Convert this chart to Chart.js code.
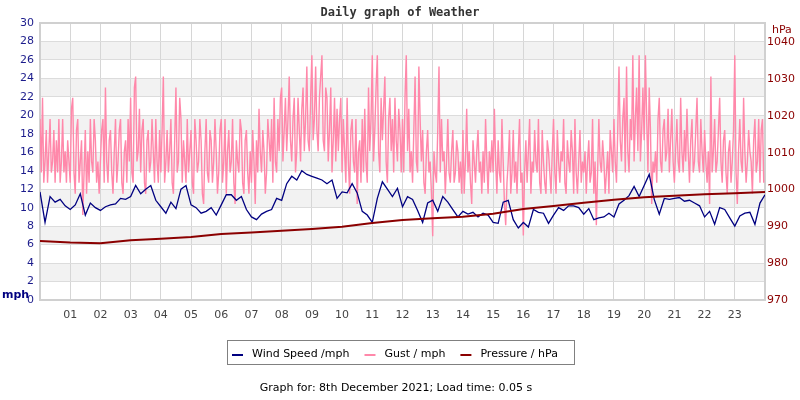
<!DOCTYPE html>
<html>
<head>
<meta charset="utf-8">
<script src="https://cdn.jsdelivr.net/npm/chart.js@4.4.0/dist/chart.umd.min.js"></script>
<style>
  html, body { margin: 0; padding: 0; background: #fff; }
</style>
</head>
<body>
<canvas id="chart1" width="800" height="400"></canvas>
<script>
// hour labels on the x axis
const hourLabels = ['01','02','03','04','05','06','07','08','09','10','11','12',
  '13','14','15','16','17','18','19','20','21','22','23'];

// wind speed, mph, every 10 minutes from 00:00 to 24:00
const windSpeed = [
  11.7, 8.4, 11.2, 10.6, 10.9, 10.2,
  9.8, 10.3, 11.5, 9.2, 10.5, 10.0,
  9.7, 10.1, 10.3, 10.4, 11.0, 10.9,
  11.2, 12.4, 11.5, 12.0, 12.4, 10.8,
  10.1, 9.4, 10.6, 9.9, 12.0, 12.4,
  10.3, 10.0, 9.4, 9.6, 10.0, 9.2,
  10.3, 11.4, 11.4, 10.8, 11.2, 9.8,
  9.0, 8.7, 9.3, 9.6, 9.8, 11.0,
  10.8, 12.6, 13.4, 13.0, 14.0, 13.6,
  13.4, 13.2, 13.0, 12.6, 13.0, 11.0,
  11.7, 11.6, 12.6, 11.6, 9.6, 9.2,
  8.4, 11.0, 12.8, 12.0, 11.2, 12.1,
  10.1, 11.2, 10.9, 9.7, 8.4, 10.5,
  10.8, 9.6, 11.2, 10.6, 9.8, 9.0,
  9.6, 9.3, 9.5, 9.0, 9.4, 9.2,
  8.4, 8.3, 10.6, 10.8, 8.7, 7.8,
  8.4, 7.9, 9.8, 9.5, 9.4, 8.3,
  9.2, 10.0, 9.7, 10.2, 10.2, 10.0,
  9.3, 9.9, 8.7, 8.9, 9.0, 9.4,
  9.0, 10.4, 10.8, 11.3, 12.3, 11.2,
  12.4, 13.6, 10.9, 9.3, 11.0, 10.9,
  11.0, 11.1, 10.7, 10.8, 10.5, 10.2,
  9.0, 9.6, 8.2, 10.0, 9.8, 8.9,
  8.0, 9.1, 9.4, 9.5, 8.2, 10.5,
  11.4
];

// gust, mph, every 2.5 minutes (one row per hour)
const gust = [
  19.6, 13.8, 21.9, 12.7, 15.0, 18.4, 12.7, 16.1, 19.6, 13.8, 15.0, 18.4, 12.7, 17.3, 13.8, 19.6, 12.7, 15.0, 19.6, 13.8, 16.1, 12.7, 17.3, 15.0,
  12.7, 20.7, 21.9, 13.8, 11.5, 18.4, 19.6, 12.7, 15.0, 17.3, 9.2, 13.8, 18.4, 11.5, 16.1, 12.7, 19.6, 15.0, 13.8, 19.6, 17.3, 12.7, 15.0, 11.5,
  15.0, 18.4, 19.6, 12.7, 23.0, 15.0, 12.7, 17.3, 18.4, 13.8, 11.5, 16.1, 19.6, 12.7, 15.0, 18.4, 19.6, 12.7, 11.5, 16.1, 17.3, 12.7, 19.6, 15.0,
  21.9, 13.8, 12.7, 23.0, 24.2, 15.0, 16.1, 20.7, 13.8, 18.4, 19.6, 12.7, 11.5, 17.3, 18.4, 13.8, 15.0, 19.6, 16.1, 12.7, 19.6, 15.0, 12.7, 18.4,
  13.8, 18.4, 24.2, 12.7, 15.0, 18.4, 13.8, 16.1, 19.6, 12.7, 11.5, 17.3, 23.0, 13.8, 15.0, 21.9, 19.6, 12.7, 17.3, 15.0, 12.7, 19.6, 13.8, 16.1,
  18.4, 12.7, 11.5, 19.6, 17.3, 13.8, 15.0, 19.6, 17.3, 11.5, 10.4, 16.1, 19.6, 13.8, 12.7, 18.4, 17.3, 12.7, 15.0, 19.6, 16.1, 11.5, 13.8, 18.4,
  19.6, 12.7, 15.0, 19.6, 11.5, 16.1, 18.4, 13.8, 15.0, 19.6, 12.7, 10.4, 17.3, 15.0, 13.8, 19.6, 18.4, 12.7, 11.5, 17.3, 18.4, 13.8, 11.5, 16.1,
  12.7, 18.4, 15.0, 10.4, 17.3, 13.8, 20.7, 16.1, 13.8, 18.4, 16.1, 11.5, 13.8, 19.6, 17.3, 15.0, 19.6, 12.7, 21.9, 15.0, 13.8, 19.6, 16.1, 21.9,
  23.0, 15.0, 18.4, 21.9, 16.1, 19.6, 24.2, 17.3, 15.0, 19.6, 21.9, 13.8, 16.1, 21.9, 18.4, 15.0, 20.7, 23.0, 16.1, 19.6, 25.3, 17.3, 16.1, 21.9,
  26.5, 17.3, 19.6, 25.3, 18.4, 16.1, 21.9, 24.2, 26.5, 17.3, 16.1, 23.0, 21.9, 15.0, 18.4, 23.0, 13.8, 17.3, 21.9, 15.0, 20.7, 16.1, 19.6, 21.9,
  13.8, 19.6, 16.1, 12.7, 21.9, 15.0, 11.5, 18.4, 19.6, 15.0, 13.8, 19.6, 10.4, 16.1, 17.3, 12.7, 19.6, 13.8, 20.7, 15.0, 12.7, 23.0, 16.1, 19.6,
  26.5, 15.0, 18.4, 23.0, 26.5, 16.1, 13.8, 21.9, 17.3, 20.7, 24.2, 15.0, 12.7, 19.6, 21.9, 16.1, 19.6, 13.8, 21.9, 17.3, 15.0, 20.7, 18.4, 13.8,
  19.6, 13.8, 21.9, 26.5, 16.1, 20.7, 13.8, 16.1, 12.7, 18.4, 24.2, 15.0, 13.8, 25.3, 19.6, 15.0, 18.4, 12.7, 11.5, 16.1, 18.4, 13.8, 15.0, 11.5,
  6.9, 16.1, 13.8, 12.7, 18.4, 25.3, 13.8, 19.6, 15.0, 16.1, 11.5, 15.0, 19.6, 13.8, 12.7, 16.1, 18.4, 12.7, 13.8, 17.3, 16.1, 12.7, 15.0, 11.5,
  18.4, 11.5, 15.0, 20.7, 13.8, 16.1, 12.7, 10.4, 17.3, 15.0, 12.7, 16.1, 18.4, 13.8, 15.0, 11.5, 16.1, 12.7, 19.6, 15.0, 11.5, 16.1, 13.8, 17.3,
  13.8, 20.7, 15.0, 11.5, 17.3, 13.8, 12.7, 19.6, 15.0, 10.4, 8.1, 12.7, 15.0, 18.4, 11.5, 13.8, 18.4, 12.7, 15.0, 11.5, 16.1, 19.6, 12.7, 13.8,
  7.0, 13.8, 17.3, 12.7, 16.1, 19.6, 11.5, 15.0, 13.8, 18.4, 15.0, 13.8, 19.6, 12.7, 11.5, 18.4, 15.0, 12.7, 11.5, 17.3, 16.1, 13.8, 11.5, 16.1,
  19.6, 13.8, 11.5, 18.4, 15.0, 12.7, 16.1, 15.0, 19.6, 12.7, 11.5, 17.3, 15.0, 13.8, 18.4, 16.1, 11.5, 19.6, 13.8, 11.5, 15.0, 18.4, 12.7, 15.0,
  13.8, 16.1, 11.5, 15.0, 17.3, 12.7, 13.8, 19.6, 11.5, 15.0, 8.1, 13.8, 19.6, 15.0, 13.8, 17.3, 15.0, 11.5, 13.8, 16.1, 11.5, 18.4, 16.1, 13.8,
  19.6, 15.0, 12.7, 18.4, 25.3, 17.3, 15.0, 19.6, 21.9, 13.8, 25.3, 16.1, 13.8, 19.6, 17.3, 26.5, 15.0, 19.6, 23.0, 16.1, 26.5, 15.0, 18.4, 23.0,
  17.3, 26.5, 19.6, 13.8, 23.0, 18.4, 10.4, 15.0, 13.8, 16.1, 12.7, 19.6, 21.9, 15.0, 13.8, 18.4, 19.6, 15.0, 16.1, 20.7, 13.8, 17.3, 20.7, 15.0,
  12.7, 16.1, 19.6, 15.0, 13.8, 21.9, 16.1, 13.8, 18.4, 15.0, 20.7, 16.1, 12.7, 17.3, 19.6, 13.8, 15.0, 18.4, 21.9, 15.0, 13.8, 19.6, 16.1, 13.8,
  18.4, 15.0, 12.7, 16.1, 10.4, 24.2, 13.8, 16.1, 19.6, 13.8, 15.0, 18.4, 21.9, 15.0, 12.7, 17.3, 18.4, 13.8, 11.5, 16.1, 17.3, 12.7, 15.0, 18.4,
  26.5, 13.8, 10.4, 16.1, 19.6, 15.0, 13.8, 21.9, 16.1, 12.7, 15.0, 18.4, 16.1, 15.0, 11.5, 17.3, 19.6, 13.8, 15.0, 19.6, 12.7, 18.4, 19.6, 12.7
];

// pressure, hPa, hourly
const pressure = [
  986.0, 985.6, 985.4, 986.2, 986.6, 987.1, 987.9, 988.3, 988.8, 989.3,
  989.9, 990.9, 991.7, 992.2, 992.6, 993.4, 994.7, 995.5, 996.4, 997.2,
  997.9, 998.3, 998.7, 999.0, 999.3
];

const font = 'DejaVu Sans';

const decor = {
  id: 'decor',
  beforeDraw(chart) {
    const { ctx, chartArea: a, scales: { y } } = chart;
    ctx.save();
    ctx.fillStyle = '#fff';
    ctx.fillRect(0, 0, chart.width, chart.height);
    // alternating bands
    ctx.fillStyle = '#f2f2f2';
    for (let v = 2; v < 30; v += 4) {
      const top = y.getPixelForValue(v + 2), bot = y.getPixelForValue(v);
      ctx.fillRect(a.left, top, a.right - a.left, bot - top);
    }
    ctx.restore();
  },
  beforeDatasetsDraw(chart) {
    const { ctx, chartArea: a } = chart;
    ctx.save();
    ctx.strokeStyle = '#d0d0d0';
    ctx.lineWidth = 2;
    ctx.strokeRect(a.left, a.top, a.right - a.left, a.bottom - a.top);
    ctx.restore();
  },
  afterDraw(chart) {
    const { ctx } = chart;
    ctx.save();
    ctx.textBaseline = 'middle';

    ctx.fillStyle = '#333';
    ctx.textAlign = 'center';
    ctx.font = 'bold 12px "DejaVu Sans Mono"';
    ctx.fillText('Daily graph of Weather', 400, 13);

    ctx.textAlign = 'left';
    ctx.fillStyle = '#000080';
    ctx.font = 'bold 11px ' + font;
    ctx.fillText('mph', 2, 295);
    ctx.fillStyle = '#8b0000';
    ctx.font = '11px ' + font;
    ctx.fillText('hPa', 772, 30);

    // legend box
    ctx.strokeStyle = '#808080';
    ctx.lineWidth = 1;
    ctx.strokeRect(227.5, 340.5, 347, 24);
    ctx.font = '11px ' + font;
    let x = 232;
    chart.data.datasets.forEach(ds => {
      ctx.fillStyle = ds.borderColor;
      ctx.fillRect(x, 354, 11, 2);
      ctx.fillStyle = '#000';
      ctx.fillText(ds.label, x + 20, 354);
      x += 20 + ctx.measureText(ds.label).width + 15;
    });

    ctx.textAlign = 'center';
    ctx.fillStyle = '#000';
    ctx.fillText('Graph for: 8th December 2021; Load time: 0.05 s', 396, 388);
    ctx.restore();
  }
};

new Chart(document.getElementById('chart1'), {
  type: 'line',
  data: {
    datasets: [{
      label: 'Wind Speed /mph',
      data: windSpeed.map((v, i) => ({ x: i / 6, y: v })),
      borderColor: '#000080',
      borderWidth: 1.3,
      yAxisID: 'y',
      order: 1
    }, {
      label: 'Gust / mph',
      data: gust.map((v, i) => ({ x: i / 24, y: v })),
      borderColor: '#ff88aa',
      borderWidth: 1.4,
      yAxisID: 'y',
      order: 2
    }, {
      label: 'Pressure / hPa',
      data: pressure.map((v, i) => ({ x: i, y: v })),
      borderColor: '#8b0000',
      borderWidth: 2,
      yAxisID: 'y1',
      order: 0
    }]
  },
  options: {
    responsive: false,
    animation: false,
    layout: { padding: { top: 23 } },
    elements: { point: { radius: 0 }, line: { tension: 0 } },
    plugins: { legend: { display: false }, tooltip: { enabled: false } },
    scales: {
      x: {
        type: 'linear', min: 0, max: 24,
        afterFit: s => { s.height = 100; },
        border: { display: false },
        grid: { color: '#d6d6d6', drawTicks: false },
        ticks: {
          stepSize: 1, autoSkip: false, maxRotation: 0, padding: 9,
          color: '#444', font: { family: font, size: 11 },
          callback: v => hourLabels[v - 1] || ''
        }
      },
      y: {
        position: 'left', min: 0, max: 30,
        afterFit: s => { s.width = 40; },
        border: { display: false },
        grid: { color: '#dcdcdc', drawTicks: false },
        ticks: { stepSize: 2, padding: 6, color: '#1c1c8c', font: { family: font, size: 11 } }
      },
      y1: {
        position: 'right', min: 970, max: 1045.2,
        afterFit: s => { s.width = 35; },
        border: { display: false },
        grid: { drawOnChartArea: false, drawTicks: false },
        ticks: {
          stepSize: 10, includeBounds: false, padding: 2, color: '#8b0000',
          font: { family: font, size: 11 },
          callback: v => (v % 10 === 0 ? v : '')
        }
      }
    }
  },
  plugins: [decor]
});
</script>
</body>
</html>
